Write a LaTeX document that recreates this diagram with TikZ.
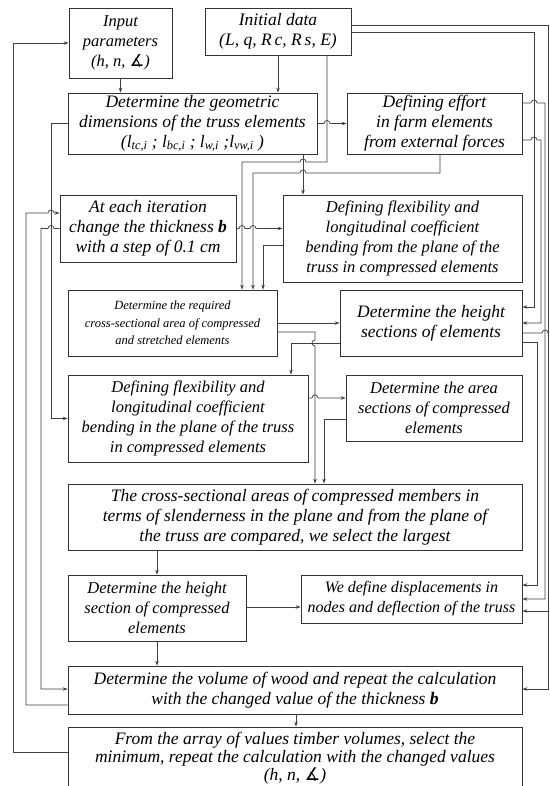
\documentclass[tikz,border=0pt]{standalone}
\usepackage{fontspec}
\setmainfont{Liberation Serif}
\newfontfamily\symf{DejaVu Sans}
\usetikzlibrary{arrows.meta}
\begin{document}
\begin{tikzpicture}[x=1pt,y=-1pt,
  box/.style={draw=black!80, line width=0.8pt, align=center, inner sep=0pt, fill=white,
    font=\itshape\fontsize{16.5}{20}\selectfont},
  big/.style={font=\itshape\fontsize{17.5}{20}\selectfont},
  conn/.style={draw=black!75, line width=0.7pt},
  arr/.style={conn, -{Stealth[length=5pt,width=3.5pt]}}]
\useasboundingbox (0,0) rectangle (549,786);
\fill[white] (0,0) rectangle (549,786);
% boxes
\node[box, minimum width=103pt, minimum height=70pt] (inp) at (120.5,43) {Input\\parameters\\(h, n, {\symf\char"2221})};
\node[box, big, minimum width=146pt, minimum height=47pt] (ini) at (278,31.5) {Initial data\\(L, q, R\,c, R\,s, E)};
\node[box, big, minimum width=249pt, minimum height=61pt] (geo) at (192.5,123.5) {Determine the geometric\\dimensions of the truss elements\\(l\textsubscript{tc,i} ; l\textsubscript{bc,i} ; l\textsubscript{w,i} ;l\textsubscript{vw,i} )};
\node[box, big, minimum width=175pt, minimum height=61pt] (eff) at (434.5,123.5) {Defining effort\\in farm elements\\from external forces};
\node[box, big, minimum width=176pt, minimum height=67pt] (itr) at (148,228.5) {At each iteration\\change the thickness \textbf{b}\\with a step of 0.1 cm};
\node[box, minimum width=239pt, minimum height=87pt] (fpl) at (402.5,238.5) {Defining flexibility and\\longitudinal coefficient\\bending from the plane of the\\truss in compressed elements};
\node[box, minimum width=209pt, minimum height=66pt, font=\itshape\fontsize{12.5}{17.5}\selectfont] (req) at (172.5,323) {Determine the required\\cross-sectional area of compressed\\and stretched elements};
\node[box, big, minimum width=182pt, minimum height=66pt] (hgt) at (431,323) {Determine the height\\sections of elements};
\node[box, minimum width=240pt, minimum height=87pt] (ipl) at (188,418.5) {Defining flexibility and\\longitudinal coefficient\\bending in the plane of the truss\\in compressed elements};
\node[box, minimum width=176pt, minimum height=66pt] (are) at (434,408) {Determine the area\\sections of compressed\\elements};
\node[box, big, minimum width=454pt, minimum height=66pt] (cmp) at (295,517) {The cross-sectional areas of compressed members in\\terms of slenderness in the plane and from the plane of\\the truss are compared, we select the largest};
\node[box, minimum width=178pt, minimum height=66pt] (hcp) at (157,608) {Determine the height\\section of compressed\\elements};
\node[box, minimum width=221pt, minimum height=48pt, font=\itshape\fontsize{16}{20}\selectfont] (dsp) at (411.5,599) {We define displacements in\\nodes and deflection of the truss};
\node[box, big, minimum width=454pt, minimum height=48pt] (vol) at (295,690) {Determine the volume of wood and repeat the calculation\\with the changed value of the thickness \textbf{b}};
\node[box, minimum width=454pt, minimum height=62pt, font=\itshape\fontsize{17.5}{18}\selectfont] (arr) at (295,758) {From the array of values timber volumes, select the\\minimum, repeat the calculation with the changed values\\(h, n, {\symf\char"2221})};
% connectors
\draw[arr] (inp.south) -- (inp.south |- geo.north);
\draw[arr] (ini.south) -- (ini.south |- geo.north);
\draw[arr] (ini.south -| 327,0) -- (327,162) -- (306,162) arc[start angle=0,end angle=180,radius=3pt] -- (242,162) -- (req.north -| 242,0);
\draw[arr] (eff.south -| 440,0) -- (440,173) -- (306,173) arc[start angle=0,end angle=180,radius=3pt] -- (253,173) -- (req.north -| 253,0);
\draw[arr] (geo.east) -- (324,123.5) arc[start angle=180,end angle=0,radius=3pt] -- (eff.west);
\draw[arr] (geo.south -| 303,0) -- (fpl.north -| 303,0);
\draw[arr] (geo.west) -- (51,123.5) -- (51,418.5) -- (ipl.west);
\draw[arr] (vol.west |- 0,705) -- (26,705) -- (26,213) -- (48,213) arc[start angle=180,end angle=0,radius=3pt] -- (itr.west |- 0,213);
\draw[arr] (itr.west) -- (54,228.5) arc[start angle=0,end angle=180,radius=3pt] -- (41,228.5) -- (41,689) -- (vol.west |- 0,689);
\draw[arr] (arr.west |- 0,752) -- (13,752) -- (13,43) -- (inp.west);
\draw[arr] (itr.east) -- (239,228.5) arc[start angle=180,end angle=0,radius=3pt] -- (250,228.5) arc[start angle=180,end angle=0,radius=3pt] -- (fpl.west |- 0,228.5);
\draw[arr] (fpl.west |- 0,245) -- (263,245) -- (req.north -| 263,0);
\draw[arr] (req.east) -- (hgt.west);
\draw[arr] (req.east |- 0,332) -- (315,332) -- (315,340) arc[start angle=90,end angle=270,radius=3pt] -- (cmp.north -| 315,0);
\draw[arr] (hgt.west |- 0,343) -- (291,343) -- (ipl.north -| 291,0);
\draw[arr] (ipl.east |- 0,398) -- (312,398) arc[start angle=180,end angle=0,radius=3pt] -- (are.west |- 0,398);
\draw[arr] (are.west |- 0,419) -- (324,419) -- (cmp.north -| 324,0);
\draw[arr] (cmp.south -| 157,0) -- (hcp.north);
\draw[arr] (hcp.east |- 0,607) -- (dsp.west |- 0,607);
\draw[arr] (hcp.south) -- (vol.north -| hcp.south);
\draw[arr] (vol.south -| 296,0) -- (arr.north -| 296,0);
% right side
\draw[arr] (ini.east |- 0,32) -- (534,32) -- (534,307) -- (hgt.east |- 0,307);
\draw[arr] (eff.east |- 0,140) -- (531,140) arc[start angle=180,end angle=0,radius=3pt] -- (541,140) -- (541,323) -- (hgt.east |- 0,323);
\draw[arr] (eff.east |- 0,103) -- (531,103) arc[start angle=180,end angle=0,radius=3pt] -- (545,103) -- (545,599) -- (dsp.east |- 0,599);
\draw[arr] (hgt.east |- 0,342) -- (537,342) -- (537,585) -- (dsp.east |- 0,585);
\draw[arr] (ini.east |- 0,25) -- (548.5,25) -- (548.5,689) -- (vol.east |- 0,689);
\draw[arr] (548.5,611) -- (dsp.east |- 0,611);
\draw[conn] (hgt.east |- 0,333) -- (542,333) arc[start angle=180,end angle=0,radius=3pt] -- (548.5,333);
\end{tikzpicture}
\end{document}
